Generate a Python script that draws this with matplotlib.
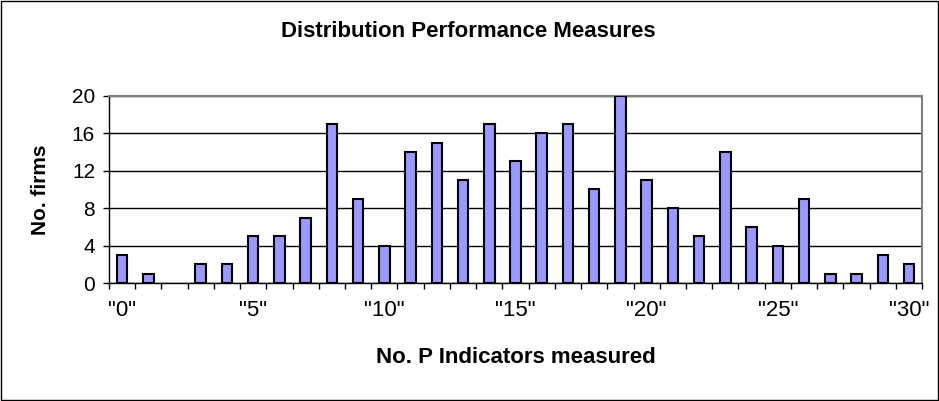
import numpy as np
import matplotlib.pyplot as plt
import matplotlib

matplotlib.rc('font', family='Liberation Sans')

categories = ['"%d"' % i for i in range(31)]
firms = [3, 1, 0, 2, 2, 5, 5, 7, 17, 9, 4, 14, 15, 11, 17, 13, 16, 17, 10, 20,
         11, 8, 5, 14, 6, 4, 9, 1, 1, 3, 2]
yticks = [0, 4, 8, 12, 16, 20]

fig = plt.figure(figsize=(9.39, 4.01), dpi=100)
ax = fig.add_axes([0.116, 0.294, 0.866, 0.467])

x = np.arange(len(firms))
edge_w = [1.5 if v > 0 else 0 for v in firms]
ax.bar(x, firms, width=0.4, color='#9999FF', edgecolor='black', linewidth=edge_w, zorder=3)

ax.set_xlim(-0.5, len(firms) - 0.5)
ax.set_ylim(0, 20)
ax.set_yticks(yticks)
ax.yaxis.grid(True, color='black', linewidth=1, zorder=0)

# category labels every 5, ticks at category boundaries
ax.set_xticks(np.arange(-0.5, len(firms)), minor=True)
ax.set_xticks(x[::5])
ax.set_xticklabels(categories[::5])
ax.tick_params(axis='x', which='major', length=0, pad=12, labelsize=16)
ax.tick_params(axis='x', which='minor', length=4.5, width=1, direction='out')
ax.tick_params(axis='y', length=4.5, width=1, labelsize=15, pad=5.5)

for side in ['top', 'right']:
    ax.spines[side].set_color('#808080')
    ax.spines[side].set_linewidth(1.5)
for side in ['left', 'bottom']:
    ax.spines[side].set_color('black')
    ax.spines[side].set_linewidth(1)

# axis titles are centred on the plot area, chart title on the figure
fig.text(0.549, 0.0948, 'No. P Indicators measured', ha='center', va='baseline',
         fontsize=16, fontweight='bold')
fig.text(0.043, 0.526, 'No. firms', ha='center', va='center', rotation=90,
         fontsize=15, fontweight='bold')
fig.text(0.499, 0.9077, 'Distribution Performance Measures', ha='center', va='baseline',
         fontsize=16, fontweight='bold')

border = plt.Rectangle((0.001, 0.002), 0.998, 0.996, transform=fig.transFigure,
                       fill=False, edgecolor='black', linewidth=1)
fig.patches.append(border)

plt.savefig('out.png', dpi=100)
